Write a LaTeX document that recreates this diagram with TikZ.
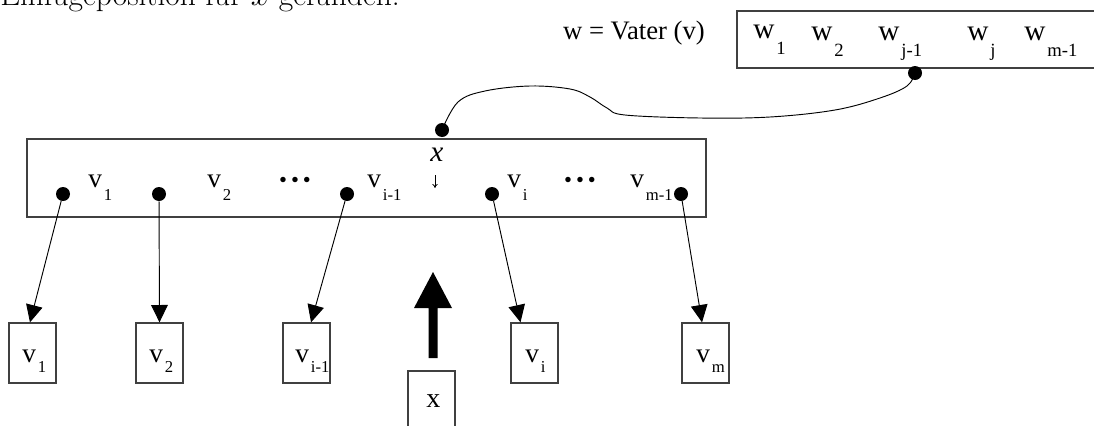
\documentclass[tikz,border=0pt]{standalone}
\usepackage{fontspec}
\newfontfamily\tms{Liberation Serif}
\usetikzlibrary{arrows.meta}
\newcommand\vlab[4]{{\tms\fontsize{#3}{#3}\selectfont #1}\hspace{1.5pt}\raisebox{-#4}{\tms\fontsize{12.5}{12.5}\selectfont #2}}
\newcommand\wlab[2]{{\tms\fontsize{22}{22}\selectfont #1}\hspace{1.5pt}\raisebox{-12pt}{\tms\fontsize{14}{14}\selectfont #2}}
\newcommand\ddd{{\tms\fontsize{17}{17}\selectfont \textbullet\hspace{3pt}\textbullet\hspace{3pt}\textbullet}}
\begin{document}
\begin{tikzpicture}[x=0.75pt,y=-0.75pt,
  frame/.style={draw=black!75, line width=1pt, inner sep=0pt},
  dotnode/.style={circle, fill=black, inner sep=0pt, minimum size=10.5pt},
  sbox/.style={draw=black!75, line width=1pt, minimum width=35.25pt, minimum height=45pt, inner sep=0pt},
  ptr/.style={line width=0.7pt, -{Triangle[length=13pt,width=12.5pt]}},
  lab/.style={anchor=base west, inner sep=0pt},
]
\useasboundingbox (0,0) rectangle (1094,425);

% title (clipped at the top)
\node[lab] (title) at (0,5) {\fontsize{23.6}{28}\selectfont Einfügeposition für $x$ gefunden:};

% father node
\node[anchor=base east, inner sep=0pt] (vater) at (705,39) {\tms\fontsize{20}{20}\selectfont w = Vater (v)};
\node[frame, minimum width=272.25pt, minimum height=42.75pt] (wbox) at (918.5,39.5) {};
\node[lab] (w1) at (753,38) {\wlab{w}{1}};
\node[lab] (w2) at (811,40) {\wlab{w}{2}};
\node[lab] (wj1) at (878,40) {\wlab{w}{j-1}};
\node[lab] (wj) at (967,40) {\wlab{w}{j}};
\node[lab] (wm1) at (1024,40) {\wlab{w}{m-1}};
\node[dotnode] (wdot) at (915,73) {};

% main node
\node[frame, minimum width=509.25pt, minimum height=58.5pt] (mainbox) at (366.5,178) {};
\node[dotnode] (xdot) at (442,130) {};
\node[dotnode] (d1) at (63,194) {};
\node[dotnode] (d2) at (159,194) {};
\node[dotnode] (d3) at (347,194) {};
\node[dotnode] (d4) at (492,194) {};
\node[dotnode] (d5) at (681,194) {};

\node[lab] (l1) at (88,187) {\vlab{v}{1}{20.5}{9.75pt}};
\node[lab] (l2) at (207,187) {\vlab{v}{2}{20.5}{9.75pt}};
\node[inner sep=0pt] (dots1) at (295,182) {\ddd};
\node[lab] (l3) at (367,187) {\vlab{v}{i-1}{20.5}{9.75pt}};
\node[inner sep=0pt] (xlab) at (437,155) {\tms\itshape\fontsize{22}{22}\selectfont x};
\coordinate (xa1) at (435,175);
\coordinate (xa2) at (435,188);
\node[lab] (l4) at (507,187) {\vlab{v}{i}{20.5}{9.75pt}};
\node[inner sep=0pt] (dots2) at (580,182) {\ddd};
\node[lab] (l5) at (630,187) {\vlab{v}{m-1}{20.5}{9.75pt}};

% children
\node[sbox] (b1) at (32.5,353) {};
\node[sbox] (b2) at (159.5,353) {};
\node[sbox] (b3) at (306.5,353) {};
\node[sbox] (b4) at (534.5,353) {};
\node[sbox] (b5) at (705.5,353) {};
\node[sbox, minimum height=60pt] (bx) at (431.5,411) {};

\node[lab] (c1) at (22,362) {\vlab{v}{1}{20.5}{8pt}};
\node[lab] (c2) at (149,362) {\vlab{v}{2}{20.5}{8pt}};
\node[lab] (c3) at (295,362) {\vlab{v}{i-1}{20.5}{8pt}};
\node[lab] (c4) at (525,362) {\vlab{v}{i}{20.5}{8pt}};
\node[lab] (c5) at (696,362) {\vlab{v}{m}{20.5}{8pt}};
\node[lab] (cx) at (426,407) {\tms\fontsize{21}{21}\selectfont x};

% connectors
\draw[line width=0.7pt] plot[smooth, tension=0.6] coordinates {(wdot.center) (907,86) (880,98) (835,110) (770,117) (700,118) (625,115) (607,108) (590,97) (570,89) (530,86) (485,91) (458,102) (xdot.center)};
\draw[ptr] (d1) -- ([xshift=-1.9pt]b1.north);
\draw[ptr] (d2) -- (b2.north);
\draw[ptr] (d3) -- ([xshift=3.4pt]b3.north);
\draw[ptr] (d4) -- ([xshift=-10.5pt]b4.north);
\draw[ptr] (d5) -- ([xshift=-2.6pt]b5.north);
\draw[line width=0.6pt, -{To[length=3pt,width=4pt]}] (xa1) -- (xa2);

% big insertion arrow
\fill (428.5,358) -- (437.5,358) -- (437.5,308) -- (452,308) -- (433,272) -- (414,308) -- (428.5,308) -- cycle;
\end{tikzpicture}
\end{document}
